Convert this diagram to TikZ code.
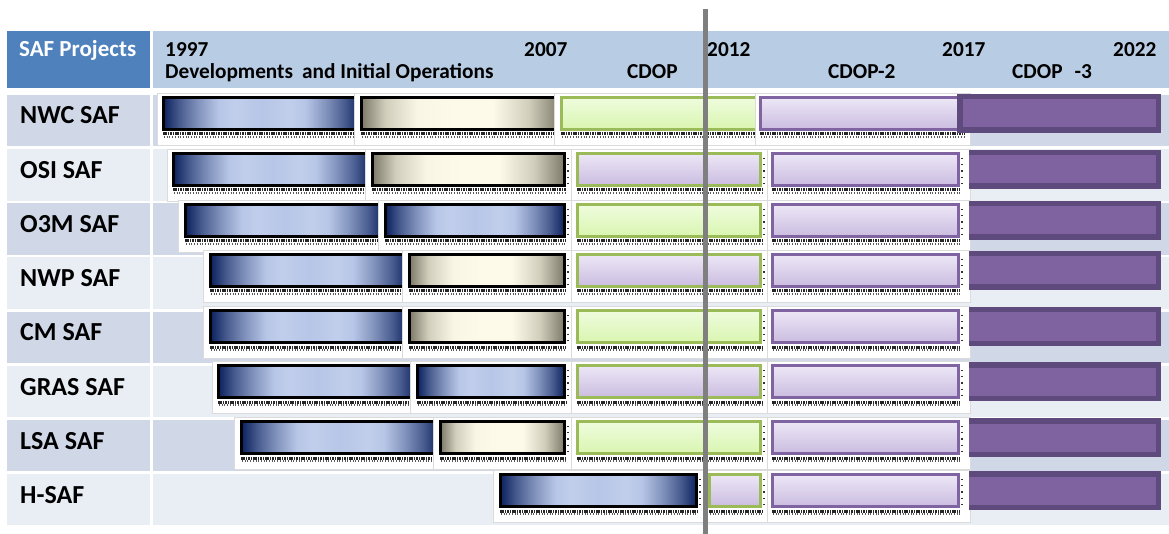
\documentclass[tikz,border=0pt]{standalone}
\usepackage{fontspec}
\setmainfont{Carlito}
\definecolor{hdrL}{HTML}{4F81BD}
\definecolor{hdrR}{HTML}{B8CCE4}
\definecolor{rowA}{HTML}{D0D8E8}
\definecolor{rowB}{HTML}{E9EDF4}
\definecolor{navy}{HTML}{0C225F}
\definecolor{lblue}{HTML}{B7C6E7}
\definecolor{lbluehi}{HTML}{C1CEEB}
\definecolor{bdark}{HTML}{7D7A6A}
\definecolor{bmid}{HTML}{D2CEBC}
\definecolor{blite}{HTML}{FDFAEA}
\definecolor{gtop}{HTML}{EFFCDE}
\definecolor{gbot}{HTML}{D9F5B0}
\definecolor{gborder}{HTML}{9BBB59}
\definecolor{ltop}{HTML}{EDE7F7}
\definecolor{lbot}{HTML}{CABCE0}
\definecolor{pborder}{HTML}{8064A2}
\definecolor{pdark}{HTML}{5E4A7C}
\definecolor{pfill}{HTML}{7F63A1}
\definecolor{vline}{HTML}{7F7F7F}
\pgfdeclarehorizontalshading{bluesh}{100bp}{color(0bp)=(navy); color(25bp)=(navy); color(29bp)=(navy!65!lblue); color(34bp)=(navy!30!lblue); color(39bp)=(lblue); color(43bp)=(lbluehi); color(50bp)=(lblue); color(57bp)=(lbluehi); color(61bp)=(lblue); color(66bp)=(navy!30!lblue); color(71bp)=(navy!65!lblue); color(75bp)=(navy); color(100bp)=(navy)}
\pgfdeclarehorizontalshading{beigesh}{100bp}{color(0bp)=(bdark); color(25bp)=(bdark); color(31bp)=(bmid); color(39bp)=(blite!90!bmid); color(48bp)=(blite); color(58bp)=(blite); color(67bp)=(bmid); color(75bp)=(bdark); color(100bp)=(bdark)}
\pgfdeclareverticalshading{greensh}{100bp}{color(0bp)=(gbot); color(25bp)=(gbot); color(75bp)=(gtop); color(100bp)=(gtop)}
\pgfdeclareverticalshading{lavsh}{100bp}{color(0bp)=(lbot); color(25bp)=(lbot); color(75bp)=(ltop); color(100bp)=(ltop)}
\tikzset{
  hdr/.style={font=\fontsize{21.3}{24}\selectfont\bfseries, inner sep=0pt, anchor=base west},
  rowlbl/.style={font=\fontsize{26}{30}\selectfont\bfseries, inner sep=0pt, anchor=base west},
  bluebar/.style={shade, shading=bluesh, draw=black, line width=3.2pt},
  beigebar/.style={shade, shading=beigesh, draw=black, line width=3.2pt},
  greenbar/.style={shade, shading=greensh, draw=gborder, line width=3pt},
  lavgbar/.style={shade, shading=lavsh, draw=gborder, line width=3pt},
  lavpbar/.style={shade, shading=lavsh, draw=pborder, line width=2.6pt},
  panel/.style={fill=white, draw=black!14, line width=0.7pt},
  dotstrip/.style={draw=black!85, line width=3pt, dash pattern=on 1.6pt off 0.8pt},
  dotstripb/.style={draw=black!65, line width=1.2pt, dash pattern=on 0.9pt off 1.8pt},
  rightdots/.style={draw=black!80, line width=1.3pt, dash pattern=on 1.2pt off 5pt},
}
% #1 style, #2 panel left, #3 panel right, #4 bar left, #5 bar right, #6 bar top
\newcommand\panelbar[6]{%
  \path[panel] (#2,#6-3) rectangle (#3,#6+49);
  \path[dotstrip] (#4+1,#6+38) -- (#5,#6+38);
  \path[dotstripb] (#4+2,#6+41) -- (#5,#6+41);
  \path[rightdots] (#5+2,#6+6) -- (#5+2,#6+33);
  \path[#1] (#4+1.6,#6+1.6) rectangle (#5-1.6,#6+33.4);
}
% #1 left, #2 bar top
\newcommand\purplebarcut[2]{%
  \fill[pdark] (#1,#2-2) rectangle (1161,#2+37);
  \fill[pfill] (#1,#2+3.5) rectangle (1155.5,#2+31.5);
}
\begin{document}
\begin{tikzpicture}[x=1pt,y=-1pt]
\useasboundingbox (0,0) rectangle (1169,534);
\fill[white] (0,0) rectangle (1169,534);
% header
\fill[hdrL] (7,31) rectangle (150,88);
\fill[hdrR] (153,31) rectangle (1169,88);
% row backgrounds
\foreach \i/\c in {0/rowA,1/rowB,2/rowA,3/rowB,4/rowA,5/rowB,6/rowA,7/rowB}{
  \pgfmathsetmacro\rt{95+54.14*\i}
  \fill[\c] (7,\rt) rectangle (150,\rt+51.5);
  \fill[\c] (153,\rt) rectangle (1169,\rt+51.5);
}
% NWC SAF
\panelbar{bluebar}{157}{354}{162}{362}{96}
\panelbar{beigebar}{354}{554}{360}{562}{96}
\panelbar{greenbar}{554}{755}{560}{762}{96}
\panelbar{lavpbar}{755}{970}{759}{965}{96}
\fill[pdark] (957,94) rectangle (1161,133);
\fill[pfill] (962.5,99.5) rectangle (1155.5,127.5);
% OSI SAF
\panelbar{bluebar}{167}{365}{172}{373}{152}
\panelbar{beigebar}{365}{571}{371}{566}{152}
\panelbar{lavgbar}{571}{767}{576}{762}{152}
\panelbar{lavpbar}{767}{970}{771}{960}{152}
\purplebarcut{969}{152}
% O3M SAF
\panelbar{bluebar}{178}{378}{184}{386}{203}
\panelbar{bluebar}{378}{571}{384}{566}{203}
\panelbar{greenbar}{571}{767}{576}{762}{203}
\panelbar{lavpbar}{767}{970}{771}{960}{203}
\purplebarcut{969}{203}
% NWP SAF
\panelbar{bluebar}{203}{402}{209}{410}{253}
\panelbar{beigebar}{402}{571}{408}{566}{253}
\panelbar{lavgbar}{571}{767}{576}{762}{253}
\panelbar{lavpbar}{767}{970}{771}{960}{253}
\purplebarcut{969}{253}
% CM SAF
\panelbar{bluebar}{203}{402}{209}{410}{309}
\panelbar{beigebar}{402}{571}{408}{566}{309}
\panelbar{greenbar}{571}{767}{576}{762}{309}
\panelbar{lavpbar}{767}{970}{771}{960}{309}
\purplebarcut{969}{309}
% GRAS SAF
\panelbar{bluebar}{212}{410}{217}{418}{364}
\panelbar{bluebar}{410}{571}{416}{566}{364}
\panelbar{lavgbar}{571}{767}{576}{762}{364}
\panelbar{lavpbar}{767}{970}{771}{960}{364}
\purplebarcut{969}{364}
% LSA SAF
\panelbar{bluebar}{234}{433}{240}{441}{420}
\panelbar{beigebar}{433}{571}{439}{566}{420}
\panelbar{greenbar}{571}{767}{576}{762}{420}
\panelbar{lavpbar}{767}{970}{771}{960}{420}
\purplebarcut{969}{420}
% H-SAF
\panelbar{bluebar}{493}{703}{499}{698}{473}
\panelbar{lavgbar}{703}{767}{708}{762}{473}
\panelbar{lavpbar}{767}{970}{771}{960}{473}
\purplebarcut{969}{473}
% header texts
\node[font=\fontsize{23}{26}\selectfont\bfseries, text=white, inner sep=0pt, anchor=base west] (safproj) at (19,57) {SAF Projects};
\node[hdr] (y1997) at (165,56.5) {1997};
\node[hdr] (devops) at (165,79) {Developments\hspace{9pt}and Initial Operations};
\node[hdr] (y2007) at (524,56.5) {2007};
\node[hdr] (cdop) at (627,79) {CDOP};
\node[hdr] (y2012) at (707,56.5) {2012};
\node[hdr] (cdop2) at (828,79) {CDOP-2};
\node[hdr] (y2017) at (942,56.5) {2017};
\node[hdr] (cdop3) at (1012,79) {CDOP\hspace{12pt}-3};
\node[hdr] (y2022) at (1113,56.5) {2022};
% row labels
\node[rowlbl] (nwc) at (20,124) {NWC SAF};
\node[rowlbl] (osi) at (20,178.5) {OSI SAF};
\node[rowlbl] (o3m) at (20,232.7) {O3M SAF};
\node[rowlbl] (nwp) at (20,286.9) {NWP SAF};
\node[rowlbl] (cm) at (20,341) {CM SAF};
\node[rowlbl] (gras) at (20,395.2) {GRAS SAF};
\node[rowlbl] (lsa) at (20,449.4) {LSA SAF};
\node[rowlbl] (hsaf) at (20,503.5) {H-SAF};
% current-date line
\coordinate (ltop) at (705,9);
\coordinate (lbot) at (705,534);
\draw[vline, line width=5pt] (ltop) -- (lbot);
\end{tikzpicture}
\end{document}
